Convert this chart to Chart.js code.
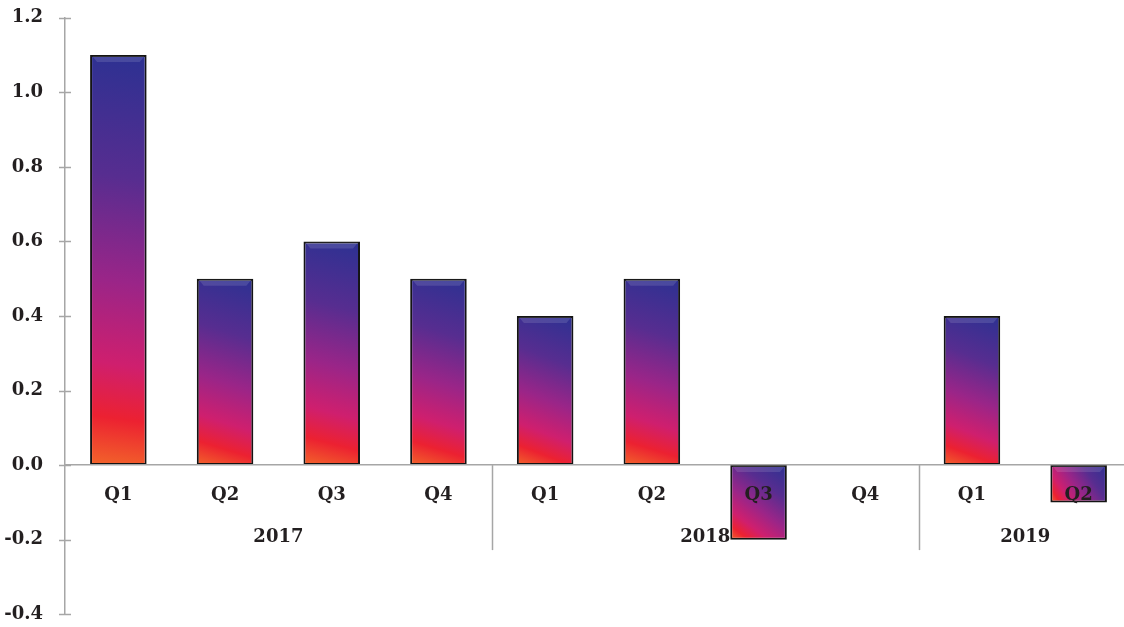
<!DOCTYPE html>
<html>
<head>
<meta charset="utf-8">
<script src="https://cdn.jsdelivr.net/npm/chart.js@4"></script>
<style>
  html, body { margin: 0; padding: 0; background: #fff; overflow: hidden; }
  #chart { display: block; margin-top: -7px; }
</style>
</head>
<body>
<canvas id="chart" width="1132" height="646"></canvas>
<script>
// Chart data
const quarters = ['Q1', 'Q2', 'Q3', 'Q4', 'Q1', 'Q2', 'Q3', 'Q4', 'Q1', 'Q2'];
const years = ['2017', '2018', '2019'];
const yearSpans = [4, 4, 2];   // number of quarters under each year
const values = [1.1, 0.5, 0.6, 0.5, 0.4, 0.5, -0.2, null, 0.4, -0.1];
const yTicks = [-0.4, -0.2, 0.0, 0.2, 0.4, 0.6, 0.8, 1.0, 1.2];

const FONT = '"DejaVu Serif", serif';
const TEXT = '#231f20';
const AXIS = '#a6a6a6';

// Build a gradient for each bar (blue on top, red/orange at the bottom)
function barGradient(context) {
    const chart = context.chart;
    if (!chart.chartArea || context.type !== 'data') return '#8a2a8f';
    const v = context.raw;
    if (v === null || v === undefined) return '#8a2a8f';
    const xs = chart.scales.x, ys = chart.scales.y;
    const top = ys.getPixelForValue(Math.max(v, 0));
    const bottom = ys.getPixelForValue(Math.min(v, 0));
    const cx = xs.getPixelForValue(context.dataIndex);
    const half = xs.width / quarters.length * 0.53 / 2;
    const g = chart.ctx.createLinearGradient(cx + half, top, cx - half, bottom);
    g.addColorStop(0, '#2c3192');
    g.addColorStop(0.3, '#572d90');
    g.addColorStop(0.55, '#9a2588');
    g.addColorStop(0.75, '#cf1f6e');
    g.addColorStop(0.88, '#ec2131');
    g.addColorStop(1, '#f2652a');
    return g;
}

// Year labels, separators, crossing tick marks and bar bevels
const extrasPlugin = {
    id: 'extras',
    afterDatasetsDraw(chart) {
        const ctx = chart.ctx;
        const xs = chart.scales.x, ys = chart.scales.y;
        const zero = ys.getPixelForValue(0);
        const step = xs.width / quarters.length;
        ctx.save();

        // light bevel at the top of each bar
        chart.getDatasetMeta(0).data.forEach((bar, i) => {
            if (values[i] === null) return;
            const p = bar.getProps(['x', 'y', 'base', 'width'], true);
            const top = Math.min(p.y, p.base);
            const l = p.x - p.width / 2 + 2, r = p.x + p.width / 2 - 2;
            ctx.fillStyle = 'rgba(255,255,255,0.12)';
            ctx.beginPath();
            ctx.moveTo(l, top + 1);
            ctx.lineTo(r, top + 1);
            ctx.lineTo(r - 5, top + 7);
            ctx.lineTo(l + 5, top + 7);
            ctx.closePath();
            ctx.fill();
        });

        // y tick marks crossing the axis
        ctx.strokeStyle = AXIS;
        ctx.lineWidth = 1.5;
        yTicks.forEach(t => {
            const py = Math.round(ys.getPixelForValue(t)) + 0.5;
            ctx.beginPath();
            ctx.moveTo(xs.left - 6, py);
            ctx.lineTo(xs.left + 6, py);
            ctx.stroke();
        });

        // group separators and year labels
        ctx.font = 'bold 18px ' + FONT;
        ctx.fillStyle = TEXT;
        ctx.textAlign = 'center';
        ctx.textBaseline = 'middle';
        let idx = 0;
        years.forEach((yr, i) => {
            const first = idx, last = idx + yearSpans[i] - 1;
            const cx = (xs.getPixelForValue(first) + xs.getPixelForValue(last)) / 2;
            ctx.fillText(yr, cx, zero + 72);
            idx += yearSpans[i];
            if (i < years.length - 1) {
                const sx = Math.round(xs.getPixelForValue(last) + step / 2) + 0.5;
                ctx.beginPath();
                ctx.moveTo(sx, zero);
                ctx.lineTo(sx, zero + 85);
                ctx.stroke();
            }
        });
        ctx.restore();
    }
};

new Chart(document.getElementById('chart'), {
    type: 'bar',
    data: {
        labels: quarters,
        datasets: [{
            data: values,
            backgroundColor: barGradient,
            borderColor: '#141414',
            borderWidth: 2,
            borderSkipped: false,
            categoryPercentage: 1,
            barPercentage: 0.53
        }]
    },
    options: {
        responsive: false,
        animation: false,
        layout: {
            padding: { top: 4, right: 0, bottom: 3, left: 0 }
        },
        scales: {
            x: {
                position: { y: 0 },
                afterFit: function(scale) { scale.height = 0; },
                grid: { display: false },
                border: { display: true, color: AXIS, width: 1.5, z: 1 },
                ticks: {
                    z: 1,
                    color: TEXT,
                    padding: 11,
                    font: { family: FONT, size: 18, weight: 'bold' },
                    maxRotation: 0
                }
            },
            y: {
                min: -0.4,
                max: 1.2,
                afterFit: function(scale) { scale.width = 65; },
                afterBuildTicks: function(scale) {
                    scale.ticks = yTicks.map(v => ({ value: v }));
                },
                grid: { display: false },
                border: { display: true, color: AXIS, width: 1.5 },
                ticks: {
                    color: TEXT,
                    padding: 14,
                    font: { family: FONT, size: 18, weight: 'bold' },
                    callback: function(value) { return value.toFixed(1); }
                }
            }
        },
        plugins: {
            legend: { display: false },
            tooltip: { enabled: false }
        }
    },
    plugins: [extrasPlugin]
});
</script>
</body>
</html>
